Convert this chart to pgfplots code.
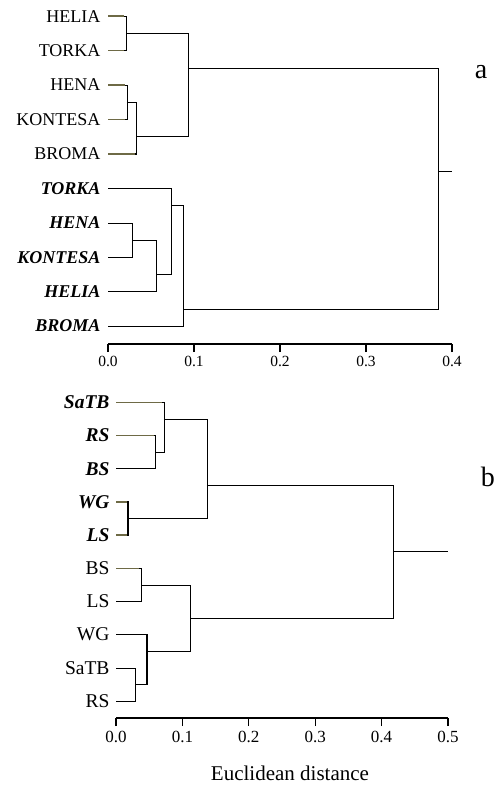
\documentclass[border=0pt]{standalone}
\usepackage{fontspec}
\setmainfont{Liberation Serif}
\usepackage{pgfplots}
\pgfplotsset{compat=1.18}
\definecolor{olive}{RGB}{110,106,70}
\pgfplotsset{
  dendro/.style={
    scale only axis, clip=false,
    axis x line*=bottom, axis y line*=left,
    y axis line style={draw=none},
    x axis line style={line width=1.3pt,-},
    xtick align=outside, major tick length=8pt,
    xtick style={line width=1.2pt,black},
    ytick={0,...,9}, ytick style={draw=none},
    /pgf/number format/assume math mode=true,
    cycle list={{black,solid,line width=1.3pt,mark=none}},
  },
  leaf/.style={olive,solid,line width=1.3pt,mark=none},
}
\begin{document}
\begin{tikzpicture}
\path[use as bounding box] (0,0) rectangle (502pt,-787pt);
% ---------------- (a) ----------------
\begin{axis}[dendro,
  at={(108pt,-344pt)}, anchor=south west,
  width=344pt, height=343.7pt,
  xmin=0, xmax=0.4, ymin=-0.52, ymax=9.46,
  xtick={0,0.1,0.2,0.3,0.4}, xticklabels={0.0,0.1,0.2,0.3,0.4},
  xticklabel style={font=\fontsize{15.5}{17}\selectfont, yshift=-1pt},
  yticklabel style={font=\fontsize{18}{20}\selectfont, xshift=-4pt},
  yticklabels={{\bfseries\itshape BROMA},{\bfseries\itshape HELIA},{\bfseries\itshape KONTESA},{\bfseries\itshape HENA},{\bfseries\itshape TORKA},BROMA,KONTESA,HENA,TORKA,HELIA},
]
\addplot coordinates {(0,9) (0.021,9) (0.021,8) (0,8)};
\addplot coordinates {(0,7) (0.022,7) (0.022,6) (0,6)};
\addplot coordinates {(0.022,6.5) (0.033,6.5) (0.033,5) (0,5)};
\addplot coordinates {(0.021,8.5) (0.093,8.5) (0.093,5.5) (0.033,5.5)};
\addplot coordinates {(0,3) (0.028,3) (0.028,2) (0,2)};
\addplot coordinates {(0.028,2.5) (0.056,2.5) (0.056,1) (0,1)};
\addplot coordinates {(0,4) (0.074,4) (0.074,1.5) (0.056,1.5)};
\addplot coordinates {(0.074,3.5) (0.087,3.5) (0.087,0) (0,0)};
\addplot coordinates {(0.093,7.5) (0.384,7.5) (0.384,0.5) (0.087,0.5)};
\addplot coordinates {(0.384,4.5) (0.4,4.5)};
% olive leaf stubs
\addplot[leaf] coordinates {(0,9) (0.019,9)};
\addplot[leaf] coordinates {(0,8) (0.019,8)};
\addplot[leaf] coordinates {(0,7) (0.020,7)};
\addplot[leaf] coordinates {(0,6) (0.020,6)};
\addplot[leaf] coordinates {(0,5) (0.031,5)};
\node[font=\fontsize{28}{30}\selectfont] at (axis cs:0.4337,7.37) {a};
\end{axis}
% ---------------- (b) ----------------
\begin{axis}[dendro,
  at={(116pt,-718pt)}, anchor=south west,
  width=332pt, height=332.7pt,
  xmin=0, xmax=0.5, ymin=-0.51, ymax=9.51,
  xtick={0,0.1,0.2,0.3,0.4,0.5}, xticklabels={0.0,0.1,0.2,0.3,0.4,0.5},
  xticklabel style={font=\fontsize{17}{19}\selectfont, yshift=-2pt},
  yticklabel style={font=\fontsize{19.5}{21}\selectfont, xshift=-3pt},
  yticklabels={RS,SaTB,WG,LS,BS,{\bfseries\itshape LS},{\bfseries\itshape WG},{\bfseries\itshape BS},{\bfseries\itshape RS},{\bfseries\itshape SaTB}},
  xlabel={Euclidean distance},
  xlabel style={font=\fontsize{21}{23}\selectfont, at={(axis description cs:0.524,0)}, anchor=center, yshift=-55pt},
]
\addplot coordinates {(0,8) (0.0587,8) (0.0587,7) (0,7)};
\addplot coordinates {(0,9) (0.072,9) (0.072,7.5) (0.0587,7.5)};
\addplot coordinates {(0,6) (0.018,6) (0.018,5) (0,5)};
\addplot coordinates {(0.072,8.5) (0.137,8.5) (0.137,5.5) (0.018,5.5)};
\addplot coordinates {(0,4) (0.0377,4) (0.0377,3) (0,3)};
\addplot coordinates {(0,1) (0.0286,1) (0.0286,0) (0,0)};
\addplot coordinates {(0,2) (0.0467,2) (0.0467,0.5) (0.0286,0.5)};
\addplot coordinates {(0.0377,3.5) (0.111,3.5) (0.111,1.5) (0.0467,1.5)};
\addplot coordinates {(0.137,6.5) (0.417,6.5) (0.417,2.5) (0.111,2.5)};
\addplot coordinates {(0.417,4.5) (0.5,4.5)};
% olive leaf stubs
\addplot[leaf] coordinates {(0,9) (0.070,9)};
\addplot[leaf] coordinates {(0,8) (0.057,8)};
\addplot[leaf] coordinates {(0,6) (0.016,6)};
\addplot[leaf] coordinates {(0,5) (0.016,5)};
\addplot[leaf] coordinates {(0,4) (0.035,4)};
\node[font=\fontsize{28}{30}\selectfont] at (axis cs:0.560,6.74) {b};
\end{axis}
\end{tikzpicture}
\end{document}
